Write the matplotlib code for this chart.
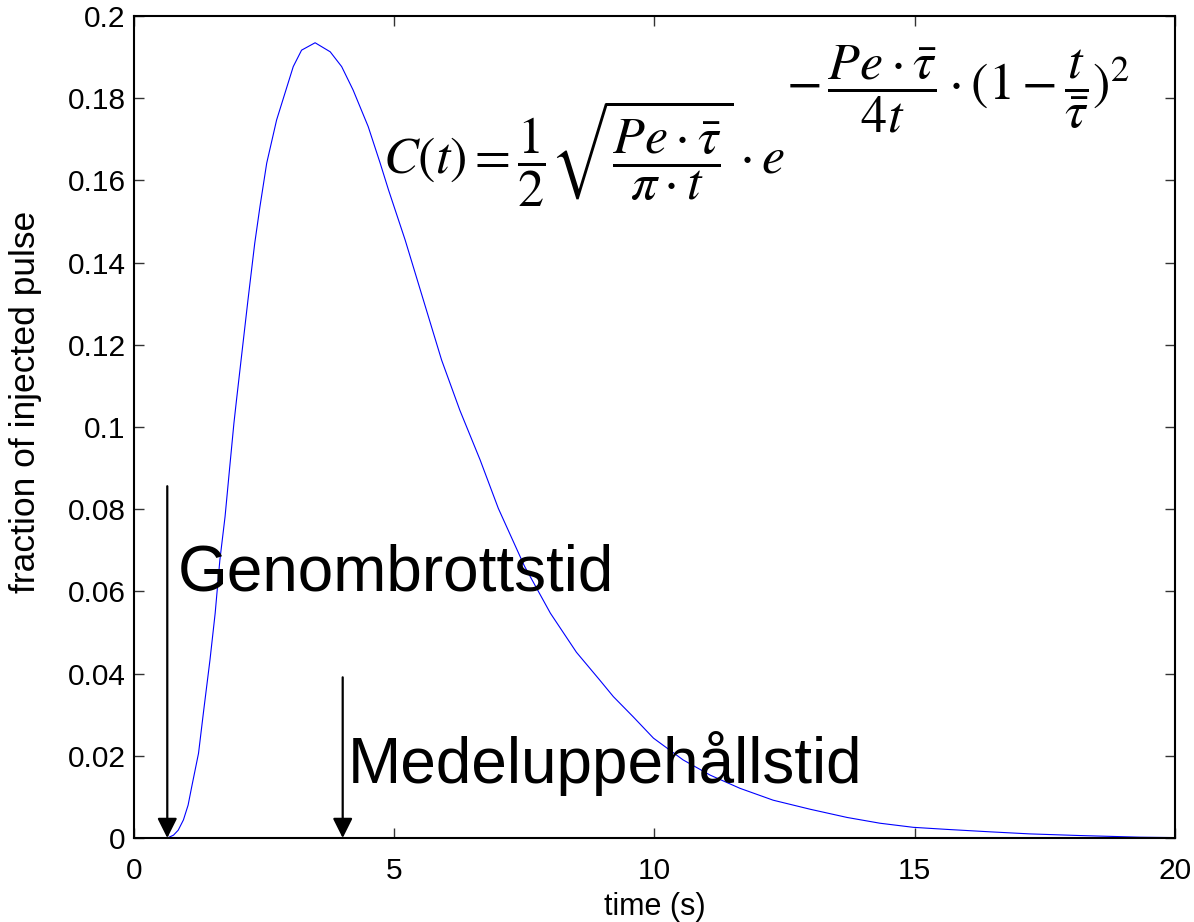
import matplotlib
matplotlib.use("Agg")
import matplotlib.pyplot as plt
from matplotlib.ticker import FuncFormatter

# kurvan (tid i s, andel av injicerad puls)
time_s = [0.0, 0.3, 0.55, 0.66, 0.76, 0.85, 0.95, 1.04, 1.11, 1.24, 1.34,
          1.46, 1.56, 1.65, 1.75, 1.84, 1.92, 1.97, 2.19, 2.32, 2.42, 2.55,
          2.74, 2.90, 3.06, 3.22, 3.48, 3.77, 3.99, 4.21, 4.50, 4.73, 4.89,
          5.21, 5.56, 5.91, 6.26, 6.65, 7.00, 7.50, 8.00, 8.50, 8.95, 9.21,
          9.59, 9.98, 10.55, 11.07, 11.64, 12.28, 12.99, 13.70, 14.33, 14.97,
          15.61, 16.45, 17.21, 18.17, 19.33, 20.0]
fraction = [0.0, 0.0, 0.0, 0.0001, 0.0007, 0.0019, 0.0044, 0.0080, 0.0125,
            0.0206, 0.0311, 0.0433, 0.0547, 0.0676, 0.0782, 0.0903, 0.1009,
            0.1066, 0.1309, 0.1447, 0.1536, 0.1642, 0.1747, 0.1812, 0.1877,
            0.1917, 0.1935, 0.1913, 0.1877, 0.1820, 0.1731, 0.1642, 0.1577,
            0.1455, 0.1309, 0.1163, 0.1041, 0.0920, 0.0802, 0.0662, 0.0547,
            0.0452, 0.0384, 0.0344, 0.0295, 0.0243, 0.0190, 0.0153, 0.0121,
            0.0092, 0.0070, 0.0050, 0.0036, 0.0026, 0.0021, 0.0015, 0.0010,
            0.0006, 0.0002, 0.0001]

x_ticks = [0, 5, 10, 15, 20]
y_ticks = [0, 0.02, 0.04, 0.06, 0.08, 0.1, 0.12, 0.14, 0.16, 0.18, 0.2]

# pilar: genombrottstid och medeluppehållstid
arrow_names = ['Genombrottstid', 'Medeluppehållstid']
arrow_t = [0.64, 4.01]
arrow_top = [0.0856, 0.0391]

plt.rcParams['font.family'] = ['Liberation Sans', 'DejaVu Sans']
plt.rcParams['mathtext.fontset'] = 'stix'

fig = plt.figure(figsize=(11.94, 9.22), dpi=100)
ax = fig.add_axes([0.1122, 0.0911, 0.8719, 0.8915])

ax.plot(time_s, fraction, color='#0000ff', lw=0.8)

ax.set_xlim(0, 20)
ax.set_ylim(0, 0.2)
ax.set_xticks(x_ticks)
ax.set_yticks(y_ticks)
ax.yaxis.set_major_formatter(FuncFormatter(lambda v, p: f'{v:g}'))
ax.tick_params(direction='in', length=7, width=1, top=True, right=True,
               labelsize=21.5, color='#333333')
ax.tick_params(axis='x', pad=14)
ax.tick_params(axis='y', pad=6)
for s in ax.spines.values():
    s.set_linewidth(1.5)

ax.set_xlabel('time (s)', fontsize=22, va='top')
ax.xaxis.set_label_coords(0.5, -0.066)
ax.set_ylabel('fraction of injected pulse', fontsize=25.5)
ax.yaxis.set_label_coords(-0.088, 0.53)

for name, t, top in zip(arrow_names, arrow_t, arrow_top):
    ax.annotate('', xy=(t, 0), xytext=(t, top),
                arrowprops=dict(arrowstyle='-|>,head_length=0.6,head_width=0.3',
                                mutation_scale=20, lw=1.6, color='k',
                                shrinkA=0, shrinkB=0))

ax.text(0.85, 0.0602, arrow_names[0], fontsize=46, ha='left', va='baseline')
ax.text(4.11, 0.01346, arrow_names[1], fontsize=46, ha='left', va='baseline')

# formeln i två delar så att exponenten blir stor som i originalet
fig.text(0.3208, 0.8110,
         r'$C(t)=\dfrac{1}{2}\sqrt{\dfrac{Pe\cdot\bar{\tau}}{\pi\cdot t}}\cdot e$',
         fontsize=37.5, ha='left', va='baseline')
fig.text(0.6583, 0.9035,
         r'$-\,\dfrac{Pe\cdot\bar{\tau}}{4t}\cdot(1-\dfrac{t}{\bar{\tau}})^{2}$',
         fontsize=37.5, ha='left', va='center')

fig.savefig('out.png', dpi=100)
